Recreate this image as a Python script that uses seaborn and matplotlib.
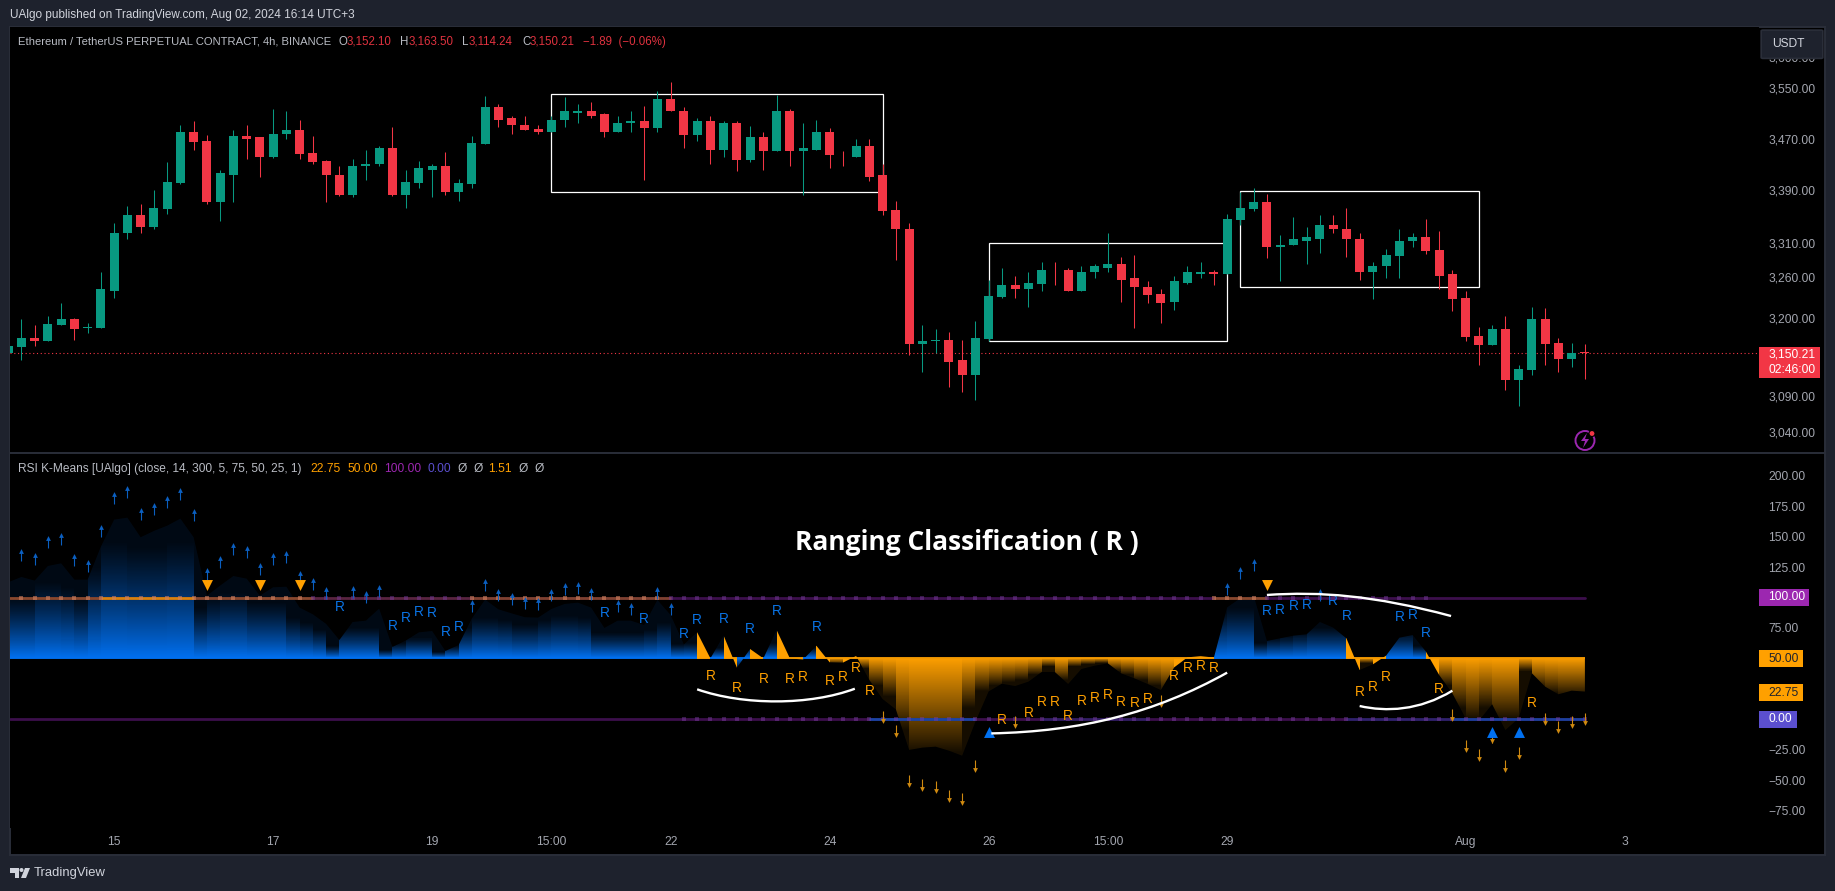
import numpy as np
import pandas as pd
import seaborn as sns
import matplotlib
matplotlib.use("Agg")
import matplotlib.pyplot as plt
from matplotlib.patches import Rectangle, Circle, Ellipse, Polygon, PathPatch, FancyBboxPatch
from matplotlib.path import Path

W, H = 1835, 891

# ---- price pane, 4h bars, first one is cut by the left edge
open_prices = [3151,3159,3172,3168,3190,3199,3186,3186,3240,3325,
               3353,3335,3362,3402,3480,3466,3372,3414,3474,3472,
               3441,3477,3483,3447,3435,3414,3383,3427,3430,3456,
               3383,3402,3422,3427,3387,3400,3461,3519,3502,3492,
               3485,3481,3499,3511,3514,3508,3480,3495,3497,3486,
               3533,3514,3475,3497,3453,3495,3436,3472,3450,3513,
               3450,3453,3480,3445,3442,3458,3413,3360,3332,3163,
               3168,3169,3140,3119,3170,3231,3248,3242,3250,3271,
               3271,3240,3267,3274,3279,3258,3246,3236,3224,3252,
               3265,3268,3265,3345,3362,3372,3304,3307,3314,3317,
               3338,3332,3317,3268,3276,3291,3313,3320,3300,3264,
               3230,3175,3162,3185,3113,3127,3199,3165,3142,3152.1]
high_prices = [3161,3199,3190,3203,3222,3201,3194,3267,3341,3366,
               3369,3390,3433,3492,3497,3475,3422,3483,3492,3472,
               3516,3514,3499,3474,3436,3427,3439,3452,3458,3488,
               3422,3435,3430,3449,3408,3474,3538,3524,3506,3506,
               3492,3506,3536,3524,3527,3511,3506,3514,3522,3545,
               3559,3520,3502,3505,3497,3497,3489,3481,3539,3516,
               3495,3499,3486,3450,3470,3469,3430,3374,3341,3190,
               3185,3180,3169,3196,3256,3274,3261,3268,3283,3283,
               3273,3276,3280,3326,3289,3292,3254,3242,3262,3277,
               3283,3271,3354,3387,3394,3384,3322,3350,3335,3353,
               3353,3363,3325,3283,3302,3331,3325,3347,3328,3270,
               3240,3187,3190,3204,3133,3216,3215,3172,3164,3163.5]
low_prices = [3151,3141,3161,3167,3190,3169,3179,3186,3230,3317,
              3325,3331,3354,3400,3452,3369,3344,3372,3439,3411,
              3440,3469,3439,3430,3372,3382,3380,3406,3428,3381,
              3363,3394,3380,3383,3374,3394,3461,3488,3477,3483,
              3478,3480,3488,3495,3502,3472,3480,3480,3406,3480,
              3513,3456,3466,3431,3441,3419,3433,3422,3450,3427,
              3383,3452,3425,3427,3441,3405,3353,3285,3147,3124,
              3150,3102,3095,3084,3168,3230,3230,3216,3240,3248,
              3240,3240,3259,3267,3224,3186,3222,3193,3212,3250,
              3259,3249,3265,3337,3359,3288,3255,3307,3279,3295,
              3325,3289,3256,3228,3259,3259,3304,3294,3242,3210,
              3168,3133,3162,3099,3076,3119,3134,3123,3131,3114.24]
close_prices = [3161,3172,3168,3192,3199,3185,3187,3242,3326,3353,
                3335,3363,3403,3480,3464,3372,3416,3474,3470,3441,
                3478,3483,3446,3433,3413,3383,3428,3431,3456,3383,
                3403,3424,3427,3387,3402,3463,3519,3500,3491,3483,
                3481,3500,3513,3514,3506,3480,3495,3497,3486,3533,
                3513,3475,3497,3453,3495,3436,3472,3450,3513,3450,
                3455,3480,3444,3444,3458,3411,3359,3331,3163,3168,
                3169,3138,3119,3172,3233,3248,3242,3252,3271,3270,
                3240,3268,3276,3279,3256,3245,3234,3222,3254,3267,
                3268,3265,3347,3363,3372,3304,3308,3316,3319,3338,
                3331,3316,3268,3277,3292,3314,3320,3298,3262,3228,
                3173,3162,3185,3113,3128,3199,3163,3142,3151,3150.21]
last_price = 3150.21
price_ticks = [3040, 3090, 3200, 3260, 3310, 3390, 3470, 3550, 3600]
range_boxes = [(40, 65, 3388, 3540), (73, 91, 3167, 3311), (92, 110, 3245, 3389.5)]

# ---- indicator pane
rsi_values = [112.5,116.9,113.9,125.9,128.1,114.7,114.7,141.8,164,165.6,
              149.5,154.7,159,164.8,149.5,101.5,109.8,117.7,115.5,101.5,
              108.4,108.9,91.7,86.2,78.3,65.1,79.9,81,90.9,59.4,
              64.6,71.4,72.5,56.1,61,82.9,98.3,90.3,87,83.8,
              83.5,90.6,94.7,95.8,91.7,75,81,81,77.4,98,
              85.6,61.5,71.4,50,68.7,42.4,57.7,50,73.3,50,
              49,60.4,46.8,46.5,52,32.2,16.6,8.1,-25.2,-23.3,
              -22.5,-25.8,-29.9,-2,22.9,29.2,27.3,30.9,38.8,38.8,
              29,41.3,44,45.9,37.7,33.6,29,24,42.6,50.8,
              52,50.6,91.9,99.4,101.5,64.3,66.5,68.7,69.8,79.9,
              75.3,66.5,40.5,45.1,52.3,67,69.2,55.6,36.4,21.3,
              0.8,-1.1,12.3,-8.8,0.8,37.8,26.8,20.5,23.5,22.75]
# how far each column's gradient reaches from the 50 line (0 = solid colour)
fill_reach = [60,60,75,75,70,60,90,115,115,110,
              110,110,115,115,50,60,65,65,55,55,
              55,40,35,28,12,30,30,30,8,15,
              20,20,6,12,30,40,40,38,33,33,
              38,42,42,40,25,25,25,25,28,35,
              14,15,0,10,0,12,0,15,0,5,
              10,0,6,0,10,25,35,65,85,85,
              85,85,45,30,25,22,20,15,8,20,
              8,6,5,12,15,20,25,30,0,5,
              5,45,50,50,15,20,22,25,30,30,
              30,0,5,0,25,25,12,0,25,45,
              55,45,55,55,12,28,32,35,35]
orange_columns = [51,53,55,57,58,60,61,62] + list(range(63, 90)) + [100,101,102] + list(range(106, 118))

up_arrow_bars = [0,1,2,3,4,5,6,7,8,9,10,11,12,13,14,15,16,17,18,19,20,21,22,23,25,26,27,
                 34,35,36,37,38,39,40,41,42,43,45,46,48,49,91,92,93,98]
up_arrow_tips = [139,135.8,149.5,152.2,135,130,158.8,185.9,190.8,172.7,176.8,182.6,189.2,171.9,
                 123.5,133.3,144,141.5,127.6,135.8,137.4,121,115.2,107.8,108.7,104.6,109.5,
                 97.2,114.4,106.2,102.9,99.6,98.8,106.2,111.1,112,107,97.2,94.7,107.8,94.7,
                 111.1,124.3,130.8,106.2]
down_arrow_bars = [65,66,67,68,69,70,71,72,75,86,108,109,110,111,112,113,115,116,117,118]
down_arrow_tips = [-2.3,-13.8,-54.8,-58.1,-59.7,-67.1,-69.6,-42.5,-6.4,10.9,
                   -0.6,-26,-33.4,-19.2,-42.5,-31.8,-3.9,-10.4,-6.3,-3.9]
blue_r_bars = [24,28,29,30,31,32,33,44,47,50,51,53,55,57,60,94,95,96,97,99,100,104,105,106]
blue_r_values = [92.5,76.9,83.5,88.4,87.6,72,75.5,87,82.6,70.3,81.8,82.6,74.4,89.2,76.1,
                 89.2,90,93.3,94.2,97.2,85.1,84.3,85.9,71.2]
orange_r_bars = [52,54,56,58,59,61,62,63,64,74,76,77,78,79,80,81,82,83,84,85,87,88,89,90,101,102,103,107,114]
orange_r_values = [35.8,26,33.3,33.3,35,31.7,35,42.4,23.5,-0.3,4.9,13.9,13.9,3,14.7,17.7,20.2,13.9,
                   13.1,16.9,35.8,42.4,44,42.4,22.7,26.8,35,24.6,13.6]
sell_bars = [14, 18, 21, 94]
sell_values = [110, 110, 110, 110]
buy_bars = [73, 111, 113]
buy_values = [-10.2, -10.7, -10.7]

# hand drawn curves: start, control, control, end
note_curves = [[(51,24.6),(54.5,11.3),(59.5,11.3),(62.9,25.1)],
               [(73.2,-11.6),(80,-10),(85.5,5),(91,38.3)],
               [(94,102.1),(98,105),(102,102),(107.9,84.8)],
               [(101,10.9),(103,6),(105.5,7),(108,23.5)]]

rsi_ticks = [-75, -50, -25, 0, 25, 50, 75, 100, 125, 150, 175, 200]
time_bars = [7, 19, 31, 40, 49, 61, 73, 82, 91, 109, 121]
time_labels = ["15", "17", "19", "15:00", "22", "24", "26", "15:00", "29", "Aug", "3"]
# (from bar, to bar, strength) of the tint lying on the 100 and 0 lines
upper_tint = [(-1,6,.4), (6,13,.8), (13,22,.4), (22,34,.15), (34,49,.35), (90,94,.4)]
lower_tint = [(64,72,.55), (77,85,.15), (100,108,.2), (108,118,.5)]

BLUE = "#0070f0"
ORANGE = "#ffa000"
GREEN = "#089981"
RED = "#f23645"
PURPLE = "#9c27b0"
INDIGO = "#5b4fcf"
FRAME = "#1e222d"
LINE = "#2a2e39"
AXIS_TEXT = "#a3a6af"
LEGEND_TEXT = "#b9bcc4"

sns.set_theme(style="dark", rc={"font.family": "Liberation Sans", "font.size": 8.64,
                                "axes.facecolor": "black", "figure.facecolor": FRAME,
                                "axes.grid": False})

bars = np.arange(-1, 119)
candles = pd.DataFrame({"bar": bars, "open": open_prices, "high": high_prices,
                        "low": low_prices, "close": close_prices})
candles["color"] = np.where(candles["close"] >= candles["open"], GREEN, RED)


def fx(x):
    return x / W


def fy(y):
    return 1 - y / H


fig = plt.figure(figsize=(W / 100, H / 100), dpi=100)
fig.add_artist(Rectangle((fx(10), fy(855)), fx(1814.5), 828 / H, transform=fig.transFigure,
                         facecolor="black", edgecolor=LINE, linewidth=1.4, zorder=-1))
ax1 = fig.add_axes([fx(10), fy(453), fx(1749), 426 / H])
ax2 = fig.add_axes([fx(10), fy(828), fx(1749), 375 / H])
for ax in (ax1, ax2):
    sns.despine(ax=ax, left=True, bottom=True, right=True, top=True)
    ax.yaxis.tick_right()
    ax.tick_params(length=0, colors=AXIS_TEXT, labelsize=8.64, pad=6.5)
    ax.set_xlim(-0.86, 131.14)

# candles
ax1.set_yscale("log")
ax1.vlines(candles["bar"], candles["low"], candles["high"], colors=candles["color"], linewidth=0.75, zorder=3)
ax1.bar(candles["bar"], (candles["close"] - candles["open"]).abs(), bottom=candles[["open", "close"]].min(axis=1),
        width=0.68, color=candles["color"], linewidth=0, zorder=4)
for x0, x1, lo, hi in range_boxes:
    ax1.add_patch(Rectangle((x0, lo), x1 - x0, hi - lo, fill=False, edgecolor="white", linewidth=0.9, zorder=2))
sns.lineplot(x=[-0.86, 131.14], y=[last_price, last_price], ax=ax1, color=RED, linewidth=0.8,
             linestyle=(0, (1, 2.4)), estimator=None, zorder=1)
ax1.set_ylim(3011.6, 3649)
ax1.set_yticks(price_ticks)
ax1.set_yticklabels([f"{p:,.2f}" for p in price_ticks])
ax1.minorticks_off()
ax1.set_xticks([])
ax1.set_xlabel("")
ax1.set_ylabel("")

# rsi gradient columns, one image column per bar gap, clipped to the area
levels = np.linspace(-60, 190, 600)
blue_rgb = matplotlib.colors.to_rgb(BLUE)
orange_rgb = matplotlib.colors.to_rgb(ORANGE)
gradient = np.zeros((len(levels), len(fill_reach), 4))
for col, reach in enumerate(fill_reach):
    is_orange = col - 1 in orange_columns
    gradient[:, col, :3] = orange_rgb if is_orange else blue_rgb
    if reach == 0:
        gradient[:, col, 3] = 1
    else:
        fade = np.clip(1 - np.abs(levels - 50) / reach, 0, 1)
        gradient[:, col, 3] = np.maximum(fade if is_orange else fade ** 1.4, 0.09)
area = ax2.fill_between(bars, rsi_values, 50, color="none", linewidth=0)
img = ax2.imshow(gradient, origin="lower", aspect="auto", interpolation="nearest",
                 extent=(-1, 118, levels[0], levels[-1]), zorder=1)
img.set_clip_path(area.get_paths()[0], transform=ax2.transData)
ax2.set_xlim(-0.86, 131.14)
ax2.set_ylim(-89.3, 218.7)

# 100 / 50 / 0 lines
for level, tints, tint_color in ((100, upper_tint, ORANGE), (0, lower_tint, BLUE)):
    sns.lineplot(x=[-0.86, 118], y=[level, level], ax=ax2, color="#3c0f4c", linewidth=2.0, estimator=None, zorder=2)
    for x0, x1, strength in tints:
        ax2.hlines(level, x0, x1, colors=tint_color, alpha=strength, linewidth=2.0, zorder=3)
warm_dots = np.array([b for b in bars if any(x0 <= b < x1 and s > 0.3 for x0, x1, s in upper_tint)])
cool_dots = np.array([b for b in bars if b <= 106 and b not in warm_dots])
lower_dots = bars[bars >= 50]
sns.scatterplot(x=warm_dots, y=np.full(len(warm_dots), 100), ax=ax2, color="#d08060", alpha=0.6, s=5, marker="s", linewidth=0, zorder=4)
sns.scatterplot(x=cool_dots, y=np.full(len(cool_dots), 100), ax=ax2, color="#7a3ea0", alpha=0.45, s=5, marker="s", linewidth=0, zorder=4)
sns.scatterplot(x=lower_dots, y=np.full(len(lower_dots), 0), ax=ax2, color="#7a3ea0", alpha=0.45, s=5, marker="s", linewidth=0, zorder=4)
base_colors = [ORANGE if b in orange_columns else BLUE for b in bars[:-1]]
ax2.hlines(np.full(len(bars) - 1, 50), bars[:-1], bars[1:], colors=base_colors, linewidth=1.3, zorder=5)

# signals
up_tips = np.array(up_arrow_tips)
ax2.vlines(up_arrow_bars, up_tips - 9, up_tips, colors="#0b5fc0", linewidth=0.8, zorder=6)
sns.scatterplot(x=up_arrow_bars, y=up_tips - 1, ax=ax2, color="#0b5fc0", s=12, marker="^", linewidth=0, zorder=6)
down_tips = np.array(down_arrow_tips)
ax2.vlines(down_arrow_bars, down_tips, down_tips + 9, colors="#d08a10", linewidth=0.8, zorder=6)
sns.scatterplot(x=down_arrow_bars, y=down_tips + 1, ax=ax2, color="#d08a10", s=12, marker="v", linewidth=0, zorder=6)
sns.scatterplot(x=sell_bars, y=sell_values, ax=ax2, color=ORANGE, s=62, marker="v", linewidth=0, zorder=6)
sns.scatterplot(x=buy_bars, y=buy_values, ax=ax2, color=BLUE, s=62, marker="^", linewidth=0, zorder=6)
for b, v in zip(blue_r_bars, blue_r_values):
    ax2.text(b, v, "R", color="#0a74e6", fontsize=9.8, ha="center", va="center", zorder=7)
for b, v in zip(orange_r_bars, orange_r_values):
    ax2.text(b, v, "R", color=ORANGE, fontsize=9.8, ha="center", va="center", zorder=7)

# white notes drawn over the pane
for pts in note_curves:
    path = Path(pts, [Path.MOVETO, Path.CURVE4, Path.CURVE4, Path.CURVE4])
    ax2.add_patch(PathPatch(path, fill=False, edgecolor="white", linewidth=1.7, zorder=8))
fig.text(fx(967), fy(542.5), "Ranging Classification ( R )", color="white", fontsize=19, fontweight="bold",
         family="Open Sans", ha="center", va="center")

ax2.set_yticks(rsi_ticks)
ax2.set_yticklabels([f"{t:.2f}".replace("-", "\u2212") for t in rsi_ticks])
ax2.set_xticks(time_bars)
ax2.set_xticklabels(time_labels)
ax2.tick_params(axis="x", pad=6)
ax2.set_xlabel("")
ax2.set_ylabel("")

# frame furniture
fig.add_artist(plt.Line2D([fx(10), fx(1824)], [fy(453), fy(453)], color=LINE, linewidth=1.4))


def tag(x0, x1, y0, y1, color, labels):
    fig.add_artist(Rectangle((fx(x0), fy(y1)), (x1 - x0) / W, (y1 - y0) / H, transform=fig.transFigure,
                             facecolor=color, linewidth=0, zorder=3))
    step = (y1 - y0) / len(labels)
    for n, (label, txt_color) in enumerate(labels):
        fig.text(fx(1768), fy(y0 + step * (n + 0.5)), label, color=txt_color, fontsize=8.64,
                 va="center", ha="left", zorder=4)


tag(1759, 1809, 589, 606, PURPLE, [("100.00", "white")])
tag(1759, 1803, 650, 667, ORANGE, [("50.00", "#1e222d")])
tag(1759, 1803, 684, 701, ORANGE, [("22.75", "#1e222d")])
tag(1759, 1797, 711, 728, INDIGO, [("0.00", "white")])
tag(1759, 1820, 347, 378, RED, [("3,150.21", "white"), ("02:46:00", "white")])

fig.add_artist(FancyBboxPatch((fx(1763), fy(57.5)), 58 / W, 26.5 / H, boxstyle="round,pad=0.001", transform=fig.transFigure,
                              facecolor=FRAME, edgecolor=LINE, linewidth=1.2, zorder=3))
fig.text(fx(1772), fy(44), "USDT", color="#d1d4dc", fontsize=8.64, va="center", zorder=4)

fig.text(fx(10), fy(15), "UAlgo published on TradingView.com, Aug 02, 2024 16:14 UTC+3", color="#d1d4dc",
         fontsize=8.5, va="center")
fig.text(fx(18), fy(41.7), "Ethereum / TetherUS PERPETUAL CONTRACT, 4h, BINANCE", color=LEGEND_TEXT,
         fontsize=8.15, va="center")
for x, letter, x2, value in ((338.5, "O", 346.8, "3,152.10"), (400, "H", 408.5, "3,163.50"),
                             (462, "L", 469, "3,114.24"), (522, "C", 530, "3,150.21")):
    fig.text(fx(x), fy(41.7), letter, color=LEGEND_TEXT, fontsize=8.3, va="center")
    fig.text(fx(x2), fy(41.7), value, color="#e0323f", fontsize=8.3, va="center")
fig.text(fx(583), fy(41.7), "\u22121.89  (\u22120.06%)", color="#e0323f", fontsize=8.3, va="center")

fig.text(fx(18), fy(468.7), "RSI K-Means [UAlgo] (close, 14, 300, 5, 75, 50, 25, 1)", color=LEGEND_TEXT,
         fontsize=8.55, va="center")
for x, label, color in ((310, "22.75", ORANGE), (347, "50.00", ORANGE), (384, "100.00", PURPLE), (427, "0.00", INDIGO),
                        (458, "\u00d8", LEGEND_TEXT), (474, "\u00d8", LEGEND_TEXT), (488, "1.51", ORANGE),
                        (519, "\u00d8", LEGEND_TEXT), (535, "\u00d8", LEGEND_TEXT)):
    fig.text(fx(x), fy(468.7), label, color=color, fontsize=8.64, va="center")

# lightning badge under the last bar
fig.add_artist(Ellipse((fx(1585), fy(440.5)), 19 / W, 19 / H, transform=fig.transFigure, fill=False, edgecolor=PURPLE, linewidth=1.4, zorder=3))
fig.add_artist(Polygon([(fx(a), fy(b)) for a, b in ((1587, 433), (1581, 441), (1585, 441), (1583, 448), (1589, 439), (1585, 439))],
                       transform=fig.transFigure, facecolor=PURPLE, linewidth=0, zorder=3))
fig.add_artist(Ellipse((fx(1592), fy(433.5)), 6 / W, 6 / H, transform=fig.transFigure, facecolor=RED, edgecolor="black", linewidth=0.8, zorder=4))

# TradingView mark
logo = "#d1d4dc"
fig.add_artist(Polygon([(fx(a), fy(b)) for a, b in ((10, 868), (19, 868), (19, 878), (14.5, 878), (14.5, 872.5), (10, 872.5))],
                       transform=fig.transFigure, facecolor=logo, linewidth=0))
fig.add_artist(Ellipse((fx(21.5), fy(870)), 4 / W, 4 / H, transform=fig.transFigure, facecolor=logo, linewidth=0))
fig.add_artist(Polygon([(fx(a), fy(b)) for a, b in ((25, 868), (30, 868), (26, 878), (21, 878))],
                       transform=fig.transFigure, facecolor=logo, linewidth=0))
fig.text(fx(33.5), fy(873), "TradingView", color=logo, fontsize=9.4, va="center")

fig.savefig("out.png", dpi=100, facecolor=fig.get_facecolor())
